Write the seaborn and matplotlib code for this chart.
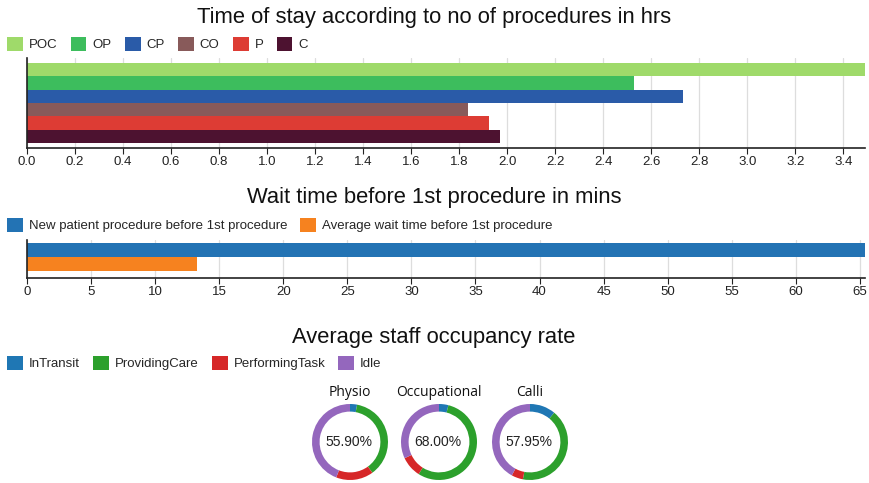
import pandas as pd
import matplotlib
matplotlib.use("Agg")
import matplotlib.pyplot as plt
from matplotlib.patches import Patch
import seaborn as sns

# chart 1: time of stay (hrs)
procedures = ["POC", "OP", "CP", "CO", "P", "C"]
stay_hours = [3.49, 2.53, 2.73, 1.835, 1.925, 1.97]
proc_colors = ["#9fda6a", "#3dbd5d", "#2a5ba8", "#885a5a", "#dd3c34", "#4d1230"]

# chart 2: wait time (mins)
wait_labels = ["New patient procedure before 1st procedure",
               "Average wait time before 1st procedure"]
wait_mins = [65.4, 13.3]
wait_colors = ["#2373b4", "#f6821f"]

# chart 3: staff occupancy (% of time)
staff = ["Physio", "Occupational", "Calli"]
states = ["InTransit", "ProvidingCare", "PerformingTask", "Idle"]
in_transit = [3.0, 4.0, 11.0]
providing_care = [37.0, 55.0, 42.0]
performing_task = [15.9, 9.0, 4.95]
idle = [44.1, 32.0, 42.05]
occupancy = ["55.90%", "68.00%", "57.95%"]
state_colors = ["#1f77b4", "#2ca02c", "#d62728", "#9467bd"]

sns.set_theme(style="white")
plt.rcParams["font.family"] = ["Liberation Sans", "DejaVu Sans"]

W, H = 869, 483
fig = plt.figure(figsize=(W / 100, H / 100), dpi=100)


def px_axes(left, top, right, bottom):
    return fig.add_axes([left / W, 1 - bottom / H, (right - left) / W, (bottom - top) / H])


def style_bar_axes(ax):
    ax.set_ylabel("")
    ax.set_xlabel("")
    ax.set_yticks([])
    for side in ["top", "right"]:
        ax.spines[side].set_visible(False)
    for side in ["left", "bottom"]:
        ax.spines[side].set_color("#222222")
        ax.spines[side].set_linewidth(1.2)
    ax.grid(axis="x", color="#dddddd", linewidth=0.9)
    ax.set_axisbelow(True)
    ax.tick_params(axis="x", bottom=True, length=4, width=0.8, colors="#222222",
                   labelsize=9.5, pad=2)


def add_legend(labels, colors, x, y):
    handles = [Patch(facecolor=c, edgecolor="none") for c in colors]
    fig.legend(handles, labels, loc="upper left", bbox_to_anchor=(x / W, 1 - y / H),
               ncol=len(labels), frameon=False, fontsize=9.5, handlelength=1.2,
               handleheight=1.2, handletextpad=0.45, columnspacing=1.0,
               borderpad=0, borderaxespad=0)


# ---- chart 1
fig.text(434 / W, 1 - 18 / H, "Time of stay according to no of procedures in hrs",
         ha="center", va="center", fontsize=15.8, color="#111111")
add_legend(procedures, proc_colors, 7, 37)
ax1 = px_axes(27, 58, 865, 148)
df1 = pd.DataFrame({"proc": procedures, "hours": stay_hours})
sns.barplot(data=df1, x="hours", y="proc", hue="proc", palette=proc_colors,
            width=1.0, legend=False, ax=ax1, saturation=1, linewidth=0)
ax1.set_xlim(0, 3.49)
ax1.set_ylim(5.875, -0.875)
ax1.set_xticks([i / 5 for i in range(18)])
ax1.set_xticklabels([f"{i / 5:.1f}" for i in range(18)])
style_bar_axes(ax1)

# ---- chart 2
fig.text(434 / W, 1 - 198 / H, "Wait time before 1st procedure in mins",
         ha="center", va="center", fontsize=15.8, color="#111111")
add_legend(wait_labels, wait_colors, 7, 218)
ax2 = px_axes(27, 240, 865, 278)
df2 = pd.DataFrame({"kind": wait_labels, "mins": wait_mins})
sns.barplot(data=df2, x="mins", y="kind", hue="kind", palette=wait_colors,
            width=1.0, legend=False, ax=ax2, saturation=1, linewidth=0)
ax2.set_xlim(0, 65.4)
ax2.set_ylim(2.0, -0.71)
ax2.set_xticks(range(0, 66, 5))
style_bar_axes(ax2)

# ---- chart 3
fig.text(434 / W, 1 - 337 / H, "Average staff occupancy rate",
         ha="center", va="center", fontsize=15.8, color="#111111")
add_legend(states, state_colors, 7, 356)
centers = [350, 439, 530]
for i, name in enumerate(staff):
    cx, cy, r = centers[i], 442, 38
    ax = px_axes(cx - r, cy - r, cx + r, cy + r)
    vals = [in_transit[i], providing_care[i], performing_task[i], idle[i]]
    ax.pie(vals, colors=state_colors, startangle=90, counterclock=False, radius=1,
           wedgeprops=dict(width=0.2, edgecolor="none"))
    ax.set_xlim(-1, 1)
    ax.set_ylim(-1, 1)
    ax.text(-0.03, 0, occupancy[i], ha="center", va="center", fontsize=10, color="#222222")
    fig.text(cx / W, 1 - 393 / H, name, ha="center", va="center", fontsize=10,
             family=["Open Sans", "DejaVu Sans"], color="#111111")

fig.savefig("out.png", dpi=100)
